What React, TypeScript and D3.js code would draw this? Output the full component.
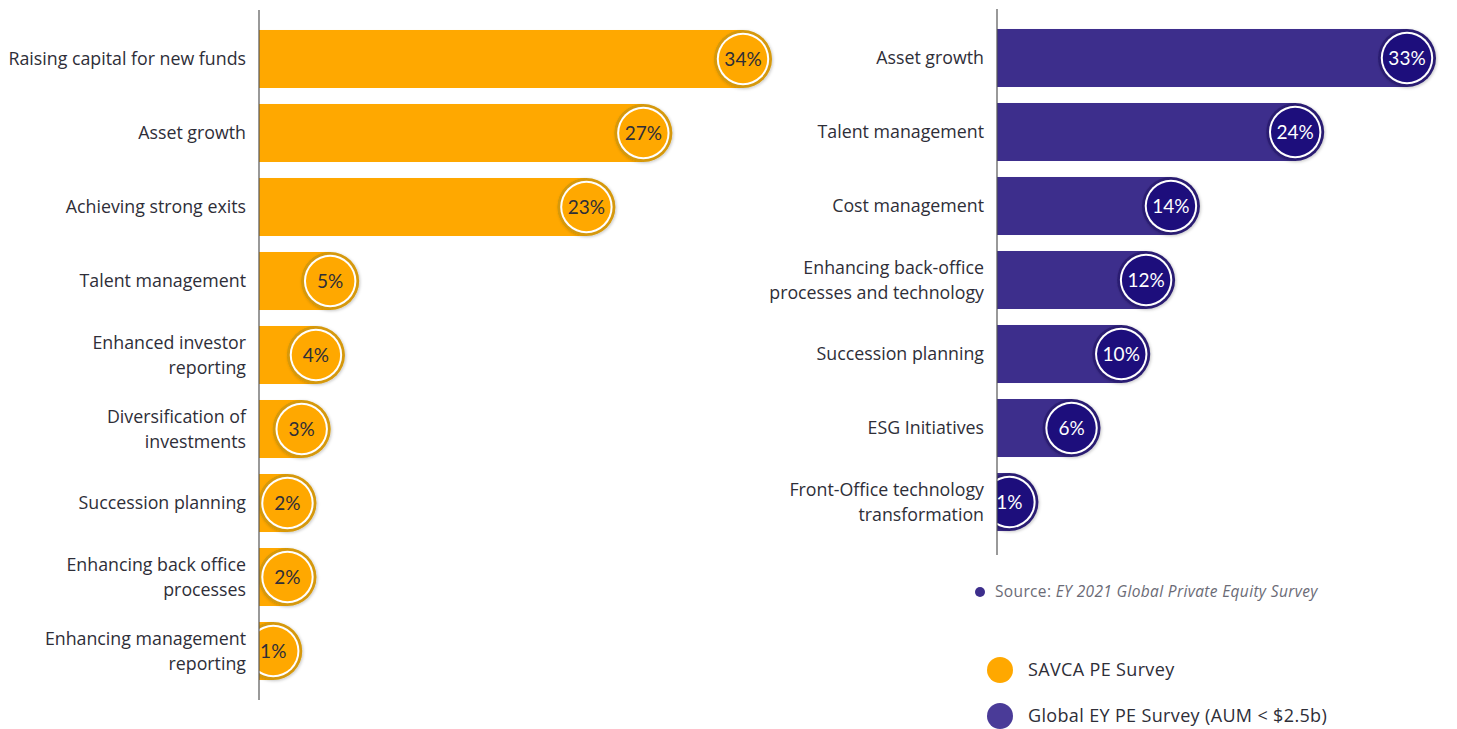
import React from "react";
import * as d3 from "d3";

const leftCategories = [
  "Raising capital for new funds",
  "Asset growth",
  "Achieving strong exits",
  "Talent management",
  "Enhanced investor\nreporting",
  "Diversification of\ninvestments",
  "Succession planning",
  "Enhancing back office\nprocesses",
  "Enhancing management\nreporting",
];
const leftValues = [34, 27, 23, 5, 4, 3, 2, 2, 1];

const rightCategories = [
  "Asset growth",
  "Talent management",
  "Cost management",
  "Enhancing back-office\nprocesses and technology",
  "Succession planning",
  "ESG Initiatives",
  "Front-Office technology\ntransformation",
];
const rightValues = [33, 24, 14, 12, 10, 6, 1];

const legendLabels = ["SAVCA PE Survey", "Global EY PE Survey (AUM < $2.5b)"];
const sourcePrefix = "Source: ";
const sourceTitle = "EY 2021 Global Private Equity Survey";

const W = 1457;
const H = 729;
const FONT = "'Open Sans', 'Noto Sans', sans-serif";
const NUMFONT = "Lato, 'Open Sans', sans-serif";
const TEXT = "#2e2e38";

type Theme = { bar: string; ring: string; inner: string; text: string };
const ORANGE: Theme = { bar: "#ffa800", ring: "#d59808", inner: "#ffa800", text: "#2e2e38" };
const PURPLE: Theme = { bar: "#3d2e8c", ring: "#2c1f72", inner: "#1d0e7c", text: "#ffffff" };

function Panel(props: {
  id: string;
  cats: string[];
  vals: number[];
  axisX: number;
  y0: number;
  y1: number;
  axisTop: number;
  axisBottom: number;
  pxPerMax: number;
  theme: Theme;
}) {
  const { id, cats, vals, axisX, y0, y1, axisTop, axisBottom, pxPerMax, theme } = props;
  const y = d3.scaleBand<string>().domain(cats).range([y0, y1]).paddingInner(0.216).paddingOuter(0.216);
  const maxV = d3.max(vals) as number;
  const x = d3.scaleLinear().domain([0, maxV]).range([axisX, axisX + pxPerMax]);
  const bh = y.bandwidth();
  const r = bh / 2;
  return (
    <g>
      <defs>
        <clipPath id={`clip-${id}`}>
          <rect x={axisX} y={0} width={W - axisX} height={H} />
        </clipPath>
        <filter id={`sh-${id}`} x="-30%" y="-30%" width="160%" height="160%">
          <feDropShadow dx="1" dy="1" stdDeviation="1.5" floodColor="#000" floodOpacity="0.22" />
        </filter>
      </defs>
      <g clipPath={`url(#clip-${id})`}>
        {cats.map((c, i) => {
          const cy = (y(c) as number) + bh / 2;
          const cx = x(vals[i]);
          return (
            <g key={c}>
              <rect x={axisX} y={cy - r} width={Math.max(0, cx - axisX)} height={bh} fill={theme.bar} />
              <circle cx={cx} cy={cy} r={r} fill={theme.ring} filter={`url(#sh-${id})`} />
              <circle cx={cx} cy={cy} r={r - 2.8} fill="#ffffff" />
              <circle cx={cx} cy={cy} r={r - 4.8} fill={theme.inner} />
              <text
                x={cx}
                y={cy}
                dy="0.36em"
                textAnchor="middle"
                fontFamily={NUMFONT}
                fontSize={19}
                fill={theme.text}
              >
                {`${vals[i]}%`}
              </text>
            </g>
          );
        })}
      </g>
      {cats.map((c) => {
        const cy = (y(c) as number) + bh / 2;
        const lines = c.split("\n");
        const lh = 25;
        return (
          <text key={c} textAnchor="end" fontFamily={FONT} fontSize={17.8} fill={TEXT}>
            {lines.map((ln, j) => (
              <tspan key={j} x={axisX - 13} y={cy + (j - (lines.length - 1) / 2) * lh} dy="0.35em">
                {ln}
              </tspan>
            ))}
          </text>
        );
      })}
      <line x1={axisX} x2={axisX} y1={axisTop} y2={axisBottom} stroke="#555" strokeWidth={1.2} />
    </g>
  );
}

export default function App() {
  return (
    <div style={{ position: "fixed", left: 0, top: 0 }}>
      <svg width={W} height={H} style={{ display: "block", background: "#fff" }}>
        <Panel
          id="l"
          cats={leftCategories}
          vals={leftValues}
          axisX={259}
          y0={14}
          y1={696}
          axisTop={10}
          axisBottom={700}
          pxPerMax={484}
          theme={ORANGE}
        />
        <Panel
          id="r"
          cats={rightCategories}
          vals={rightValues}
          axisX={997}
          y0={13}
          y1={547}
          axisTop={9}
          axisBottom={555}
          pxPerMax={410}
          theme={PURPLE}
        />
        <circle cx={980} cy={592} r={5} fill="#3d2e8c" />
        <text x={995} y={592} dy="0.35em" fontFamily={FONT} fontSize={15.5} letterSpacing={0.35} fill="#6b6b76">
          {sourcePrefix}
          <tspan fontStyle="italic">{sourceTitle}</tspan>
        </text>
        {legendLabels.map((lab, i) => (
          <g key={lab}>
            <circle cx={1000} cy={670 + i * 46} r={13} fill={i === 0 ? "#ffa800" : "#4a3b98"} />
            <text
              x={1028}
              y={670 + i * 46}
              dy="0.35em"
              fontFamily={FONT}
              fontSize={18}
              letterSpacing={0.35}
              fill={TEXT}
            >
              {lab}
            </text>
          </g>
        ))}
      </svg>
    </div>
  );
}
